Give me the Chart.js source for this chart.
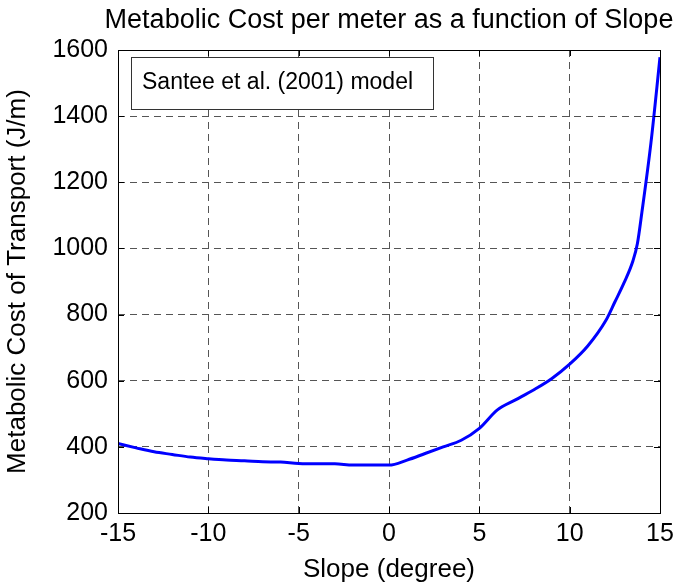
<!DOCTYPE html>
<html lang="en">
<head>
  <meta charset="UTF-8">
  <title>Metabolic Cost per meter as a function of Slope</title>
  <script src="https://cdn.jsdelivr.net/npm/chart.js"></script>
  <style>
    body { margin: 0; background: #fff; }
  </style>
</head>
<body>
  <canvas id="costChart" width="680" height="587"></canvas>
  <script>
    // slope in degrees and cost in J/m
    const slopes = [-15, -14, -13, -12, -11, -10, -9, -8, -7, -6, -5, -4, -3, -2, -1, 0,
                    1, 2, 3, 4, 5, 6, 7, 8, 9, 10, 11, 12, 12.5, 13, 13.5, 13.75, 14, 14.5, 15];
    const costs = [410, 397, 385, 377, 369, 364, 360, 358, 355, 354, 350, 349, 349, 345, 345, 345,
                   360, 380, 400, 420, 456, 512, 542, 572, 606, 650, 705, 782, 838, 895, 962, 1015, 1110, 1320, 1578];
    const xTicks = [-15, -10, -5, 0, 5, 10, 15];
    const yTicks = [200, 400, 600, 800, 1000, 1200, 1400, 1600];
    const titleText = 'Metabolic Cost per meter as a function of Slope';
    const legendText = 'Santee et al. (2001) model';

    const FONT = 'Liberation Sans, Arial, sans-serif';
    Chart.defaults.color = '#000';
    Chart.defaults.font.family = FONT;

    // MATLAB style: title over the axes, box, inward ticks, text-only legend box
    const matlabAxes = {
      id: 'matlabAxes',
      afterDraw(chart) {
        const { ctx, chartArea: a, scales } = chart;
        ctx.save();
        ctx.fillStyle = '#000';
        ctx.font = '27px ' + FONT;
        ctx.textAlign = 'center';
        ctx.textBaseline = 'middle';
        ctx.fillText(titleText, (a.left + a.right) / 2, 21);

        ctx.strokeStyle = '#000';
        ctx.lineWidth = 1;
        ctx.setLineDash([]);
        ctx.beginPath();
        xTicks.forEach(v => {
          const px = Math.round(scales.x.getPixelForValue(v)) + 0.5;
          ctx.moveTo(px, a.bottom); ctx.lineTo(px, a.bottom - 6);
          ctx.moveTo(px, a.top); ctx.lineTo(px, a.top + 6);
        });
        yTicks.forEach(v => {
          const py = Math.round(scales.y.getPixelForValue(v)) + 0.5;
          ctx.moveTo(a.left, py); ctx.lineTo(a.left + 6, py);
          ctx.moveTo(a.right, py); ctx.lineTo(a.right - 6, py);
        });
        ctx.stroke();
        ctx.strokeRect(Math.round(a.left) + 0.5, Math.round(a.top) + 0.5,
                       Math.round(a.right - a.left), Math.round(a.bottom - a.top));

        // legend box
        const bx = a.left + 13, by = a.top + 7, bw = 302, bh = 52;
        ctx.fillStyle = '#fff';
        ctx.fillRect(bx, by, bw, bh);
        ctx.strokeStyle = '#333';
        ctx.strokeRect(bx + 0.5, by + 0.5, bw, bh);
        ctx.fillStyle = '#000';
        ctx.font = '23px ' + FONT;
        ctx.textAlign = 'left';
        ctx.fillText(legendText, bx + 11, by + bh / 2);
        ctx.restore();
      }
    };

    new Chart(document.getElementById('costChart'), {
      type: 'line',
      data: {
        datasets: [{
          data: slopes.map((s, i) => ({ x: s, y: costs[i] })),
          borderColor: '#0000ff',
          borderWidth: 3,
          pointRadius: 0,
          fill: false,
          cubicInterpolationMode: 'monotone'
        }]
      },
      options: {
        responsive: false,
        animation: false,
        layout: { padding: { left: 0, right: 20, top: 50, bottom: 0 } },
        plugins: {
          legend: { display: false },
          tooltip: { enabled: false },
          title: { display: false }
        },
        scales: {
          x: {
            type: 'linear',
            min: -15, max: 15,
            afterBuildTicks: s => { s.ticks = xTicks.map(v => ({ value: v })); },
            afterFit: s => { s.height = 74; },
            grid: {
              color: '#555',
              drawTicks: false
            },
            border: { display: false, dash: [7, 5] },
            ticks: { font: { size: 25 }, padding: 6, maxRotation: 0, callback: v => String(v) },
            title: {
              display: true,
              text: 'Slope (degree)',
              font: { size: 26 },
              padding: { top: 0, bottom: 2 }
            }
          },
          y: {
            min: 200, max: 1600,
            afterBuildTicks: s => { s.ticks = yTicks.map(v => ({ value: v })); },
            afterFit: s => { s.width = 118; },
            grid: {
              color: '#555',
              drawTicks: false
            },
            border: { display: false, dash: [7, 5] },
            ticks: { font: { size: 25 }, padding: 10, callback: v => String(v) },
            title: {
              display: true,
              text: 'Metabolic Cost of Transport (J/m)',
              font: { size: 26 },
              padding: { top: 2, bottom: 2 }
            }
          }
        }
      },
      plugins: [matlabAxes]
    });
  </script>
</body>
</html>
